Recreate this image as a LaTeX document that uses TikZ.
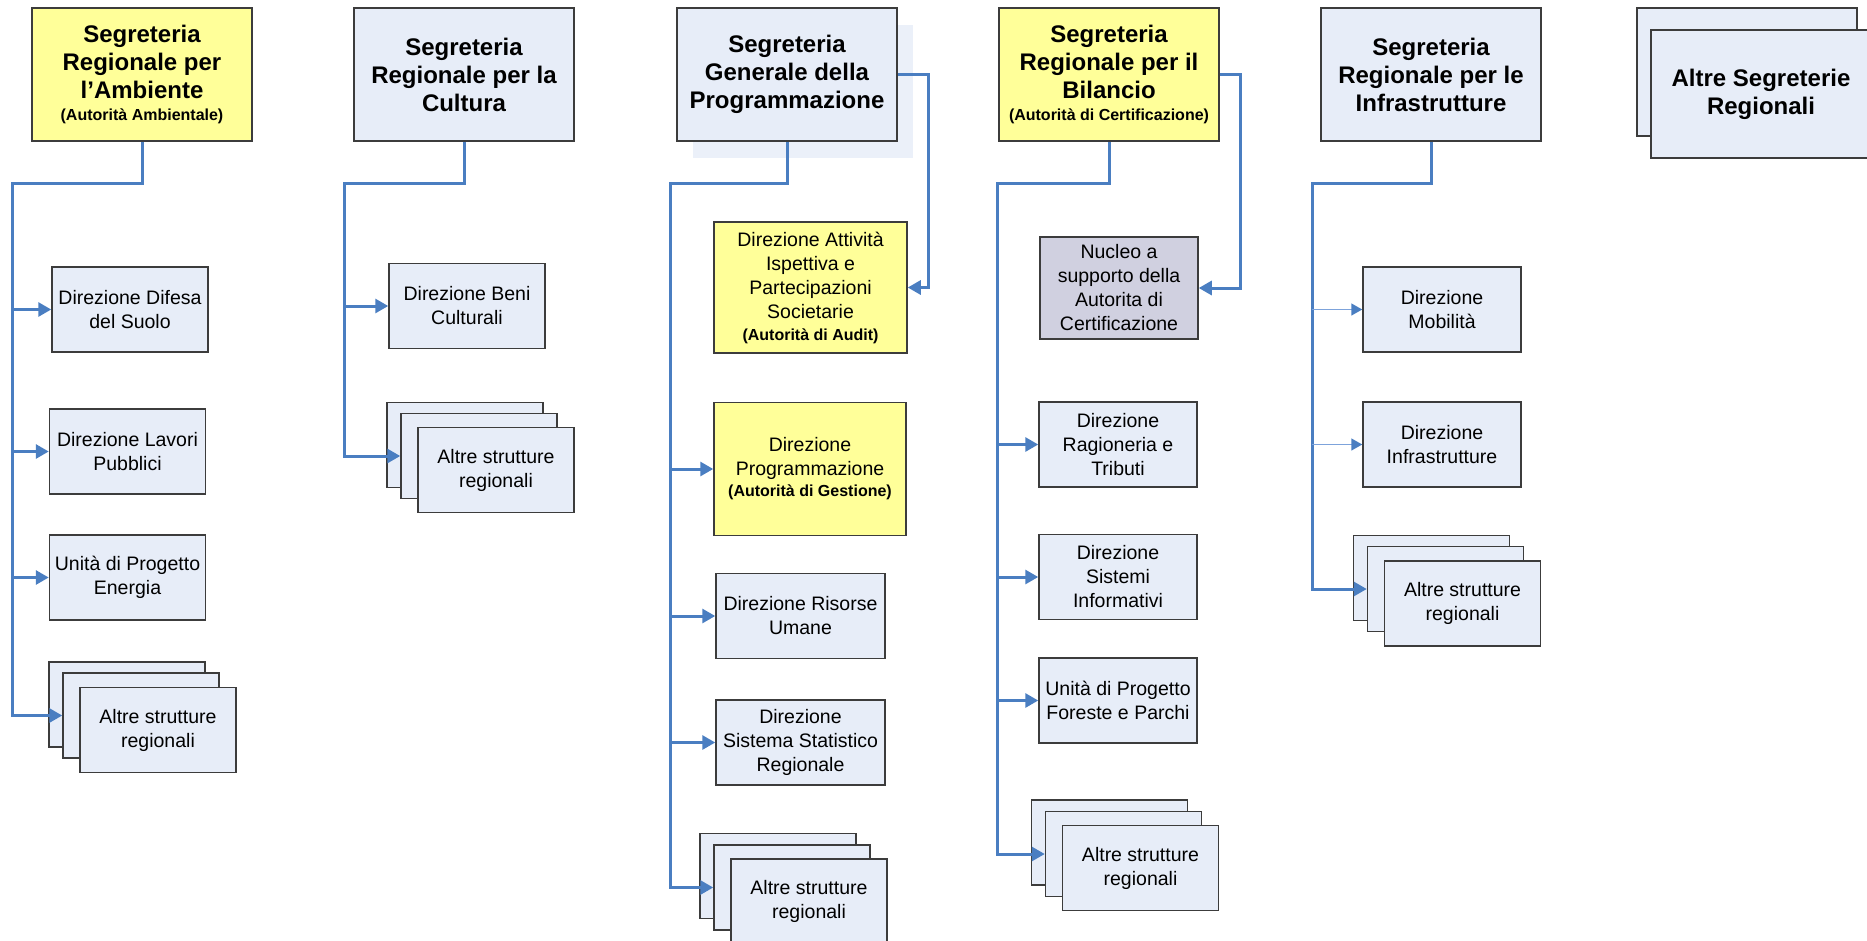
\documentclass[tikz,border=0pt]{standalone}
\usepackage{fontspec}
\setmainfont{Liberation Sans}
\usepackage{tikz}
\usetikzlibrary{arrows.meta,shadows}
\definecolor{boxfill}{RGB}{231,237,248}
\definecolor{boxline}{RGB}{60,60,60}
\definecolor{autyellow}{RGB}{255,255,153}
\definecolor{nucfill}{RGB}{208,208,224}
\definecolor{shadefill}{RGB}{235,240,249}
\definecolor{linkblue}{RGB}{74,126,193}
\definecolor{thinblue}{RGB}{125,163,219}
\newcommand{\bodyfont}{\fontsize{19.5}{24}\selectfont}
\newcommand{\headfont}{\fontsize{24}{28}\selectfont\bfseries}
\newcommand{\autfont}{\fontsize{16}{19}\selectfont\bfseries}

\tikzset{
  box/.style={draw=boxline, fill=boxfill, line width=1.5pt, align=center, inner sep=1pt,
    font=\bodyfont, minimum width=156pt, minimum height=85pt},
  segr/.style={box, font=\headfont, minimum width=220pt, minimum height=133pt},
  auth/.style={fill=autyellow},
  link/.style={color=linkblue, line width=3pt, -{Triangle[length=13pt,width=14pt]}},
  thinlink/.style={color=thinblue, line width=1.5pt, -{Triangle[length=11pt,width=12pt,color=linkblue]}}
}

\begin{document}
\begin{tikzpicture}[x=1pt,y=-1pt]
  \useasboundingbox (0,0) rectangle (1867,940);

  % segreterie
  \node[segr, auth] (amb) at (142,74.5) {Segreteria\\Regionale per\\l’Ambiente\\[-6pt]{\autfont (Autorità Ambientale)}};
  \node[segr] (cul) at (464,74.5) {Segreteria\\Regionale per la\\Cultura};
  \node[segr, drop shadow={shadow xshift=16pt, shadow yshift=-17pt, fill=shadefill, opacity=1}] (prog) at (787,74.5) {Segreteria\\Generale della\\Programmazione};
  \node[segr, auth] (bil) at (1109,74.5) {Segreteria\\Regionale per il\\Bilancio\\[-6pt]{\autfont (Autorità di Certificazione)}};
  \node[segr] (infr) at (1431,74.5) {Segreteria\\Regionale per le\\Infrastrutture};
  \node[segr, minimum height=128pt] (altsb) at (1747,72) {};
  \node[segr, minimum height=128pt] (alts) at (1761,94) {Altre Segreterie\\Regionali};

  % ambiente
  \node[box] (dif) at (130,309.5) {Direzione Difesa\\del Suolo};
  \node[box] (lav) at (127.5,451.5) {Direzione Lavori\\Pubblici};
  \node[box] (ene) at (127.5,577.5) {Unità di Progetto\\Energia};
  \node[box] (alt1c) at (127,704.5) {};
  \node[box] (alt1b) at (141,715.5) {};
  \node[box] (alt1) at (158,730) {Altre strutture\\regionali};

  % cultura
  \node[box] (beni) at (467,306) {Direzione Beni\\Culturali};
  \node[box] (alt2c) at (465,445) {};
  \node[box] (alt2b) at (479,456) {};
  \node[box] (alt2) at (496,470) {Altre strutture\\regionali};

  % programmazione
  \node[box, auth, minimum width=193pt, minimum height=131pt] (att) at (810.5,287.5) {Direzione Attività\\Ispettiva e\\Partecipazioni\\Societarie\\[-2pt]{\autfont (Autorità di Audit)}};
  \node[box, auth, minimum width=192pt, minimum height=133pt] (dpr) at (810,469) {Direzione\\Programmazione\\[-3pt]{\autfont (Autorità di Gestione)}};
  \node[box, minimum width=169pt] (ris) at (800.5,616) {Direzione Risorse\\Umane};
  \node[box, minimum width=169pt] (sta) at (800.5,742.5) {Direzione\\Sistema Statistico\\Regionale};
  \node[box] (alt3c) at (778,876) {};
  \node[box] (alt3b) at (792,887.5) {};
  \node[box] (alt3) at (809,901.5) {Altre strutture\\regionali};

  % bilancio
  \node[box, fill=nucfill, minimum width=158pt, minimum height=102pt] (nuc) at (1119,288) {Nucleo a\\supporto della\\Autorita di\\Certificazione};
  \node[box, minimum width=158pt] (rag) at (1118,444.5) {Direzione\\Ragioneria e\\Tributi};
  \node[box, minimum width=158pt] (sis) at (1118,577) {Direzione\\Sistemi\\Informativi};
  \node[box, minimum width=158pt] (for) at (1118,700.5) {Unità di Progetto\\Foreste e Parchi};
  \node[box] (alt4c) at (1109.5,842.5) {};
  \node[box] (alt4b) at (1123.5,854) {};
  \node[box] (alt4) at (1140.5,868) {Altre strutture\\regionali};

  % infrastrutture
  \node[box, minimum width=158pt] (mob) at (1442,309.5) {Direzione\\Mobilità};
  \node[box, minimum width=158pt] (dinf) at (1442,444.5) {Direzione\\Infrastrutture};
  \node[box] (alt5c) at (1431.5,578) {};
  \node[box] (alt5b) at (1445.5,589) {};
  \node[box] (alt5) at (1462.5,603.5) {Altre strutture\\regionali};

  % connettori
  \coordinate (k1) at (12,183);
  \coordinate (k2) at (344,183);
  \coordinate (k3) at (670,183);
  \coordinate (k4) at (997,183);
  \coordinate (k5) at (1312,183);
  \coordinate (kp) at (928,74.5);
  \coordinate (kb) at (1240,74.5);

  \draw[link] (amb.south) |- (k1) |- (alt1b.west);
  \draw[link] (k1 |- dif.west) -- (dif.west);
  \draw[link] (k1 |- lav.west) -- (lav.west);
  \draw[link] (k1 |- ene.west) -- (ene.west);

  \draw[link] (cul.south) |- (k2) |- (alt2b.west);
  \draw[link] (k2 |- beni.west) -- (beni.west);

  \draw[link] (prog.south) |- (k3) |- (alt3b.west);
  \draw[link] (k3 |- dpr.west) -- (dpr.west);
  \draw[link] (k3 |- ris.west) -- (ris.west);
  \draw[link] (k3 |- sta.west) -- (sta.west);
  \draw[link] (prog.east) -- (kp) |- (att.east);

  \draw[link] (bil.south) |- (k4) |- (alt4b.west);
  \draw[link] (k4 |- rag.west) -- (rag.west);
  \draw[link] (k4 |- sis.west) -- (sis.west);
  \draw[link] (k4 |- for.west) -- (for.west);
  \draw[link] (bil.east) -- (kb) |- (nuc.east);

  \draw[link] (infr.south) |- (k5) |- (alt5b.west);
  \draw[thinlink] (k5 |- mob.west) -- (mob.west);
  \draw[thinlink] (k5 |- dinf.west) -- (dinf.west);
\end{tikzpicture}
\end{document}
